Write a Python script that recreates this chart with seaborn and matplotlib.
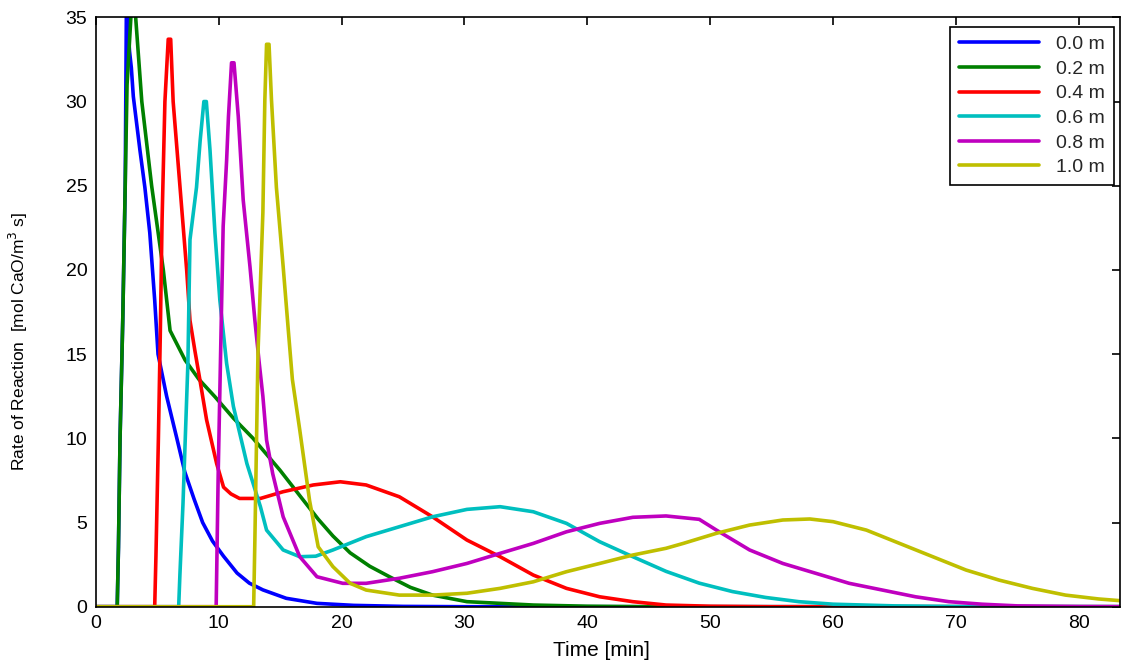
import matplotlib
matplotlib.use("Agg")
import matplotlib.pyplot as plt
import numpy as np
import pandas as pd
import seaborn as sns

# ---- data (time in min, rate in mol CaO/m^3 s) ----
labels = ["0.0 m", "0.2 m", "0.4 m", "0.6 m", "0.8 m", "1.0 m"]

t_00 = [0, 1.75, 1.85, 1.98, 2.2, 2.4, 2.5, 2.75, 2.9, 3.06, 3.6, 4.0, 4.4, 4.8, 5.07, 5.77,
        6.6, 7.25, 8.0, 8.7, 9.5, 10.4, 11.5, 12.5, 13.6, 15.5, 18, 21, 25, 30, 83.33]
v_00 = [0, 0, 3.5, 10, 17, 25, 36, 33, 32, 30.3, 27.1, 24.9, 22.2, 18.2, 15, 12.5,
        10, 8, 6.4, 5, 3.9, 3.0, 2.0, 1.4, 1.0, 0.5, 0.2, 0.08, 0.02, 0, 0]

t_02 = [0, 1.75, 1.85, 1.98, 2.2, 2.4, 2.55, 2.9, 3.2, 3.75, 4.55, 5.5, 6.05, 7.27, 8.4,
        9.7, 11.2, 12.8, 15, 16.6, 18.1, 19.3, 20.7, 22.3, 23.9, 25.6, 27.4, 30.2, 35.6,
        40, 45, 83.33]
v_02 = [0, 0, 3.5, 10, 17, 25, 31, 35.5, 35.5, 30, 25, 20, 16.4, 14.65, 13.5,
        12.47, 11.2, 10, 8.1, 6.6, 5.2, 4.2, 3.2, 2.4, 1.78, 1.15, 0.69, 0.3, 0.1,
        0.03, 0, 0]

t_04 = [0, 4.8, 4.9, 5.1, 5.25, 5.4, 5.63, 5.9, 6.1, 6.3, 6.85, 7.4, 7.67, 8.07, 8.48,
        9.02, 9.84, 10.4, 11.0, 11.7, 13.4, 15.25, 17.7, 19.9, 22.0, 24.7, 27.4, 30.2,
        32.9, 35.6, 38.3, 41.0, 43.7, 46.4, 50, 55, 83.33]
v_04 = [0, 0, 3, 10, 16, 23, 30, 33.7, 33.7, 30, 25, 20, 17, 15.2, 13.46,
        11.1, 8.5, 7.1, 6.7, 6.43, 6.43, 6.83, 7.23, 7.42, 7.23, 6.53, 5.34, 3.96,
        2.97, 1.88, 1.09, 0.59, 0.3, 0.1, 0.03, 0, 0]

t_06 = [0, 6.75, 6.85, 7.1, 7.5, 7.67, 8.2, 8.5, 8.8, 9.0, 9.3, 9.7, 10.1, 10.65, 11.2,
        12.3, 13.4, 13.9, 15.25, 16.6, 17.9, 19.3, 22.0, 24.7, 27.4, 30.2, 32.9, 35.6,
        38.3, 41.0, 43.7, 46.4, 49.1, 51.8, 54.5, 57.2, 60, 65, 70, 83.33]
v_06 = [0, 0, 1.9, 6.1, 14.45, 21.8, 24.9, 27.7, 30, 30, 27.1, 22.2, 18.2, 14.45, 11.9,
        8.5, 5.94, 4.55, 3.37, 2.97, 3.0, 3.37, 4.16, 4.75, 5.34, 5.78, 5.94, 5.64,
        4.95, 3.86, 2.97, 2.1, 1.4, 0.9, 0.55, 0.3, 0.15, 0.05, 0.01, 0]

t_08 = [0, 9.8, 9.97, 10.37, 10.65, 10.8, 11.05, 11.25, 11.6, 12.0, 12.55, 12.95, 13.3,
        13.6, 13.9, 14.4, 15.25, 16.6, 18.0, 20.1, 22.0, 24.7, 27.4, 30.2, 32.9, 35.6,
        38.3, 41.0, 43.7, 46.4, 49.1, 50.5, 53.2, 55.9, 58.6, 61.3, 64.0, 66.7, 69.4,
        72.1, 75, 80, 83.33]
v_08 = [0, 0, 8.1, 22.6, 26.5, 29.1, 32.3, 32.3, 29.1, 24.15, 20.2, 17.0, 14.5,
        12.5, 9.9, 7.9, 5.34, 2.97, 1.78, 1.39, 1.39, 1.69, 2.08, 2.57, 3.17, 3.76,
        4.45, 4.95, 5.31, 5.39, 5.19, 4.55, 3.37, 2.57, 1.98, 1.39, 0.99, 0.59, 0.3,
        0.15, 0.05, 0.01, 0]

t_10 = [0, 12.85, 12.95, 13.2, 13.6, 13.76, 13.9, 14.1, 14.3, 14.7, 15.25, 15.66, 16.0,
        16.6, 17.4, 18.1, 19.3, 20.7, 22.0, 24.7, 27.4, 30.2, 32.9, 35.6, 38.3, 41.0,
        43.7, 46.4, 47.8, 50.5, 53.2, 55.9, 58.1, 60.0, 62.7, 65.4, 68.1, 70.8, 73.5,
        76.2, 78.9, 81.6, 83.33]
v_10 = [0, 0, 4, 15, 23.4, 30.1, 33.4, 33.4, 30.1, 24.9, 20.2, 16.5, 13.5,
        10.5, 6.3, 3.56, 2.38, 1.39, 0.99, 0.69, 0.69, 0.8, 1.09, 1.48, 2.08, 2.57,
        3.07, 3.47, 3.76, 4.36, 4.85, 5.15, 5.21, 5.05, 4.55, 3.76, 2.97, 2.18, 1.58,
        1.09, 0.69, 0.46, 0.36]

series_t = [t_00, t_02, t_04, t_06, t_08, t_10]
series_v = [v_00, v_02, v_04, v_06, v_08, v_10]

colors = ["#0000ff", "#008000", "#ff0000", "#00bfbf", "#bf00bf", "#bfbf00"]

frames = []
for lab, tt, vv in zip(labels, series_t, series_v):
    frames.append(pd.DataFrame({"t": tt, "v": vv, "series": lab}))
df = pd.concat(frames, ignore_index=True)

sns.set_theme(style="white")
plt.rcParams["font.family"] = ["Liberation Sans", "DejaVu Sans"]

fig = plt.figure(figsize=(11.22, 6.62), dpi=100)
ax = fig.add_axes([0.0853, 0.0835, 0.9129, 0.8903])

sns.lineplot(data=df, x="t", y="v", hue="series", hue_order=labels,
             palette=dict(zip(labels, colors)), estimator=None, sort=False,
             linewidth=2.6, ax=ax)

ax.set_xlim(0, 83.33)
ax.set_ylim(0, 35)
ax.set_xticks(np.arange(0, 81, 10))
ax.set_yticks(np.arange(0, 36, 5))
ax.tick_params(direction="in", top=True, right=True, length=6, width=1.2,
               labelsize=14, colors="black", pad=6)
for s in ax.spines.values():
    s.set_color("black")
    s.set_linewidth(1.2)

ax.set_xlabel("Time [min]", fontsize=15, color="black")
ax.xaxis.set_label_coords(0.494, -0.058)
ax.set_ylabel("Rate of Reaction  [mol CaO/m$^{3}$ s]", fontsize=12.5, color="black")
ax.yaxis.set_label_coords(-0.064, 0.45)

handles, labs = ax.get_legend_handles_labels()
leg = ax.legend(handles, labs, loc="upper right", bbox_to_anchor=(0.994, 0.984),
                borderaxespad=0, fontsize=14, handlelength=4.1, handletextpad=0.9,
                labelspacing=0.36, frameon=True, fancybox=False, framealpha=1,
                edgecolor="black", borderpad=0.45)
leg.get_frame().set_linewidth(1.2)
for ln in leg.get_lines():
    ln.set_linewidth(2.6)

fig.savefig("out.png", dpi=100)
